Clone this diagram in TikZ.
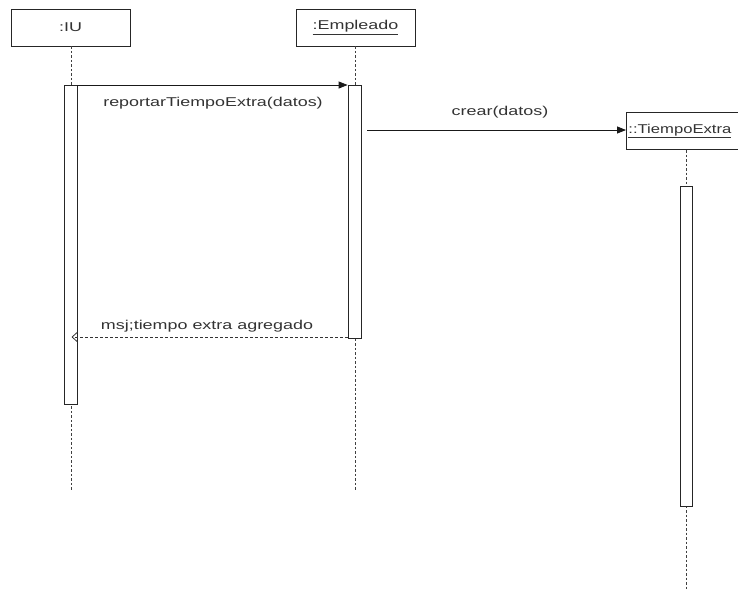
\documentclass[tikz,border=0pt]{standalone}
\usepackage{fontspec}
\usepackage{graphicx}
\setmainfont{Liberation Sans}
\usetikzlibrary{arrows.meta}
\newcommand{\wtxt}[1]{\scalebox{1.4}[1]{#1}}
\begin{document}
\begin{tikzpicture}[x=1pt,y=-1pt,
  txt/.style={text=black!80, font=\fontsize{12.8}{15}\selectfont},
  obj/.style={draw=black!85, line width=0.8pt, fill=white, minimum width=119pt, minimum height=37pt, inner sep=0pt, txt},
  act/.style={draw=black!85, line width=0.8pt, fill=white, minimum width=13pt, inner sep=0pt, anchor=north},
  life/.style={draw=black!75, line width=0.8pt, dash pattern=on 2.5pt off 2pt},
  msg/.style={draw=black!90, line width=0.8pt, -{Triangle[length=9pt,width=7pt]}},
  ret/.style={draw=black!80, line width=0.8pt, dash pattern=on 3pt off 2pt, -{Straight Barb[length=5pt,width=9pt]}},
  lbl/.style={txt, inner sep=0pt}]
\useasboundingbox (0,0) rectangle (738,590);
\fill[white] (0,0) rectangle (738,590);
% objects
\node[obj] (iu) at (70.5,27.5) {\wtxt{:IU}};
\node[obj] (emp) at (355.5,27.5) {\wtxt{\underline{:Empleado}}};
\begin{scope}
\clip (0,0) rectangle (738,590);
\node[obj, minimum width=130pt, anchor=west, text width=126pt, align=left, inner xsep=2pt] (te) at (626,131) {\scalebox{1.3}[1]{\underline{::TiempoExtra}}};
\end{scope}
% lifeline ends
\coordinate (iuend) at (71,490);
\coordinate (empend) at (355,490);
\coordinate (teend) at (686,590);
\draw[life] (iu.south -| 71,0) -- (iuend);
\draw[life] (emp.south -| 355,0) -- (empend);
\draw[life] (686,150) -- (teend);
% activations
\node[act, minimum height=319pt] (a1) at (70.5,85) {};
\node[act, minimum height=253pt] (a2) at (354.5,85) {};
\node[act, minimum height=320pt, minimum width=12pt] (a3) at (686,186) {};
% messages
\draw[msg] (a1.north east) -- (a2.north west);
\node[lbl] (l1) at (213,103) {\wtxt{reportarTiempoExtra(datos)}};
\coordinate (m2s) at (367,130);
\draw[msg] (m2s) -- (te.west |- m2s);
\node[lbl] (l2) at (500,112) {\wtxt{crear(datos)}};
\coordinate (r1) at (71.5,337);
\draw[ret] (a2.west |- r1) -- (r1);
\node[lbl] (l3) at (207,326) {\wtxt{msj;tiempo extra agregado}};
\end{tikzpicture}
\end{document}
